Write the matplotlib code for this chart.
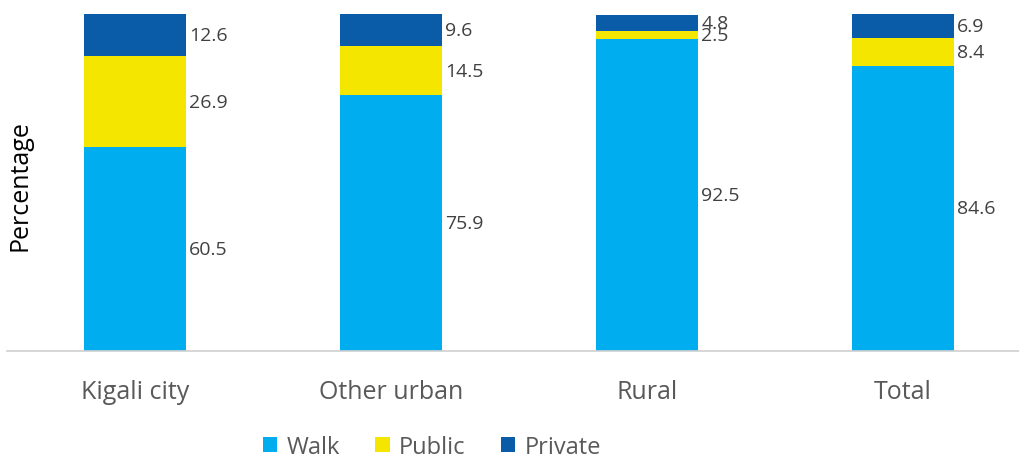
import matplotlib
matplotlib.use('Agg')
import matplotlib.pyplot as plt
import numpy as np

plt.rcParams['font.family'] = ['Open Sans', 'DejaVu Sans']

# Share of trips by mode (%)
areas = ['Kigali city', 'Other urban', 'Rural', 'Total']
walk = [60.5, 75.9, 92.5, 84.6]
public = [26.9, 14.5, 2.5, 8.4]
private = [12.6, 9.6, 4.8, 6.9]

c_walk = '#00aeef'
c_public = '#f5e600'
c_private = '#0a5ba8'
label_color = '#404040'
tick_color = '#595959'

fig = plt.figure(figsize=(10.2, 4.64), dpi=100)
ax = fig.add_axes([7 / 1020, 1 - 352 / 464, 1013 / 1020, 337 / 464])

x = np.arange(len(areas))
w = 0.4
walk_a = np.array(walk)
public_a = np.array(public)
private_a = np.array(private)

ax.bar(x, walk_a, w, color=c_walk, label='Walk')
ax.bar(x, public_a, w, bottom=walk_a, color=c_public, label='Public')
ax.bar(x, private_a, w, bottom=walk_a + public_a, color=c_private, label='Private')

# value labels to the right of each segment
for i in range(len(areas)):
    mids = [walk_a[i] / 2,
            walk_a[i] + public_a[i] / 2,
            walk_a[i] + public_a[i] + private_a[i] / 2]
    vals = [walk[i], public[i], private[i]]
    for m, v in zip(mids, vals):
        ax.text(i + w / 2 + 0.012, m, f'{v:.1f}', ha='left', va='center',
                fontsize=14, color=label_color)

ax.set_xlim(-0.5, -0.5 + 1013 / 256)
ax.set_ylim(0, 100)
ax.set_xticks(x)
ax.set_xticklabels(areas, fontsize=18, color=tick_color)
ax.tick_params(axis='x', length=0, pad=20)
ax.set_yticks([])
for s in ['top', 'right', 'left']:
    ax.spines[s].set_visible(False)
ax.spines['bottom'].set_color('#d0d0d0')
ax.spines['bottom'].set_linewidth(1.2)

fig.text(20 / 1020, 1 - 186 / 464, 'Percentage', rotation=90, ha='center',
         va='center', fontsize=18, color='#000000')

leg = fig.legend(loc='center', bbox_to_anchor=(432 / 1020, 1 - 448 / 464),
                 ncol=3, frameon=False, fontsize=17, handlelength=0.6,
                 handleheight=0.6, handletextpad=0.4, columnspacing=1.5)
for t in leg.get_texts():
    t.set_color(tick_color)

fig.savefig('out.png', dpi=100)
plt.close()
